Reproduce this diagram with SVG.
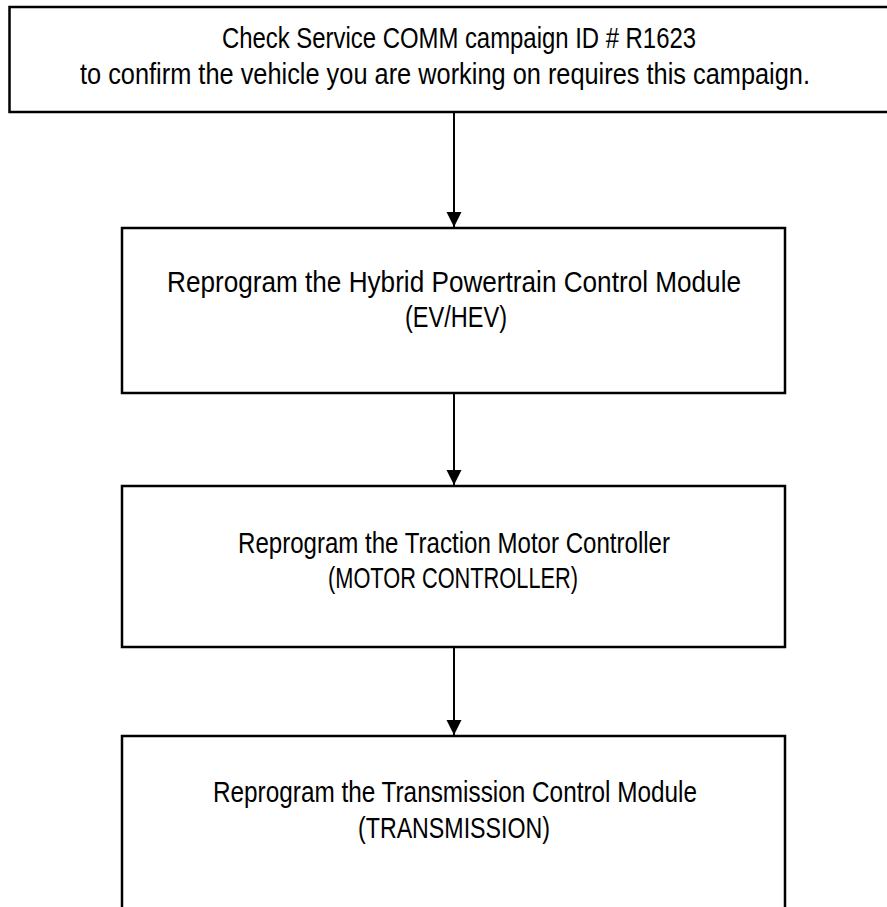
<svg xmlns="http://www.w3.org/2000/svg" width="887" height="907" viewBox="0 0 887 907">
<defs>
<style>
.box{fill:#fff;stroke:#000;stroke-width:2.5}
.t{font-family:"Liberation Sans Narrow","Arial Narrow","Liberation Sans",Arial,sans-serif;font-size:29px;fill:#000;text-anchor:middle}
.c{stroke:#000;stroke-width:2;fill:none}
</style>
<marker id="ah" markerUnits="userSpaceOnUse" markerWidth="16" markerHeight="16" refX="15" refY="7.5" orient="auto">
<path d="M0,0 L15,7.5 L0,15 Z" fill="#000"/>
</marker>
</defs>
<rect width="887" height="907" fill="#fff"/>
<g id="node-check">
<path class="box" d="M887,7 H9.5 V112 H887"/>
<text class="t" x="459" y="48" textLength="474" lengthAdjust="spacingAndGlyphs">Check Service COMM campaign ID # R1623</text>
<text class="t" x="445" y="84" textLength="730" lengthAdjust="spacingAndGlyphs">to confirm the vehicle you are working on requires this campaign.</text>
</g>
<g id="node-hpcm">
<rect class="box" x="122" y="228" width="663" height="165"/>
<text class="t" x="454" y="292" textLength="574" lengthAdjust="spacingAndGlyphs">Reprogram the Hybrid Powertrain Control Module</text>
<text class="t" x="456" y="327" textLength="102" lengthAdjust="spacingAndGlyphs">(EV/HEV)</text>
</g>
<g id="node-motor">
<rect class="box" x="122" y="486" width="663" height="161"/>
<text class="t" x="454" y="553" textLength="432" lengthAdjust="spacingAndGlyphs">Reprogram the Traction Motor Controller</text>
<text class="t" x="453" y="588" textLength="250" lengthAdjust="spacingAndGlyphs">(MOTOR CONTROLLER)</text>
</g>
<g id="node-trans">
<path class="box" d="M122,907 V736 H785 V907"/>
<text class="t" x="455" y="802" textLength="484" lengthAdjust="spacingAndGlyphs">Reprogram the Transmission Control Module</text>
<text class="t" x="454" y="838" textLength="192" lengthAdjust="spacingAndGlyphs">(TRANSMISSION)</text>
</g>
<g id="connectors">
<line class="c" x1="454" y1="113" x2="454" y2="227" marker-end="url(#ah)"/>
<line class="c" x1="454" y1="394" x2="454" y2="485" marker-end="url(#ah)"/>
<line class="c" x1="454" y1="648" x2="454" y2="735" marker-end="url(#ah)"/>
</g>
</svg>
